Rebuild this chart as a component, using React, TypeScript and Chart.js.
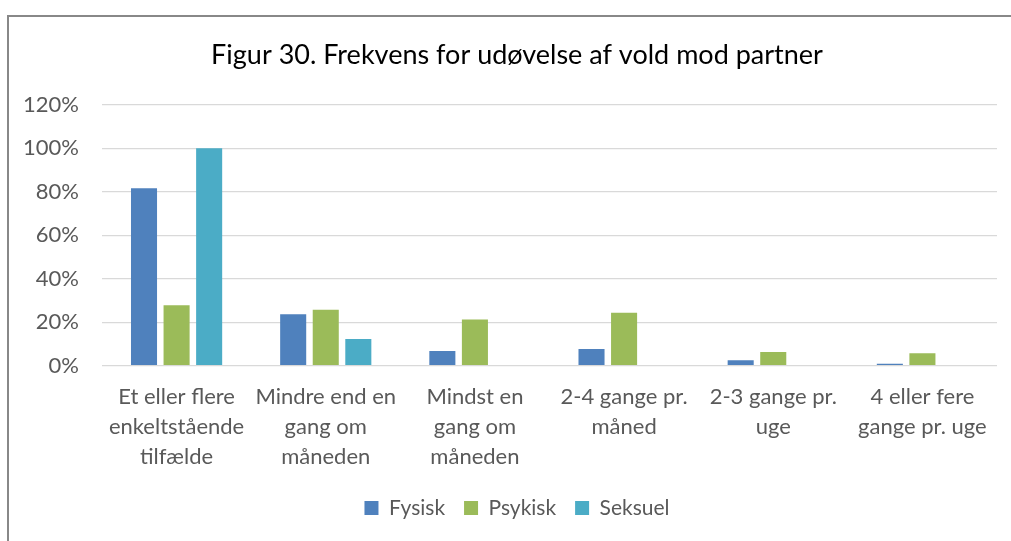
import React, { useEffect, useRef } from "react";
import { Chart, registerables } from "chart.js";

Chart.register(...registerables);

const title = "Figur 30. Frekvens for udøvelse af vold mod partner";
const categories: string[][] = [
  ["Et eller flere", "enkeltstående", "tilfælde"],
  ["Mindre end en", "gang om", "måneden"],
  ["Mindst en", "gang om", "måneden"],
  ["2-4 gange pr.", "måned"],
  ["2-3 gange pr.", "uge"],
  ["4 eller fere", "gange pr. uge"],
];
const fysisk = [81.6, 23.7, 6.8, 7.7, 2.5, 0.9];
const psykisk = [27.8, 25.7, 21.2, 24.3, 6.3, 5.7];
const seksuel = [100, 12.3, 0, 0, 0, 0];
const seriesNames = ["Fysisk", "Psykisk", "Seksuel"];
const seriesColors = ["#4F81BD", "#9BBB59", "#4BACC6"];

const FONT = "Lato";

export default function App() {
  const ref = useRef<HTMLCanvasElement | null>(null);

  useEffect(() => {
    if (!ref.current) return;
    const data = [fysisk, psykisk, seksuel];
    const chart = new Chart(ref.current, {
      type: "bar",
      data: {
        labels: categories,
        datasets: data.map((d, i) => ({
          label: seriesNames[i],
          data: d,
          backgroundColor: seriesColors[i],
          borderWidth: 0,
          categoryPercentage: 0.655,
          barPercentage: 0.8,
        })),
      },
      options: {
        animation: false,
        responsive: false,
        devicePixelRatio: 1,
        layout: { padding: { left: 28, right: 28, top: 0, bottom: 8.5 } },
        plugins: {
          tooltip: { enabled: false },
          title: {
            display: true,
            text: title,
            color: "#000000",
            font: { family: FONT, size: 27, weight: "normal", lineHeight: 1.2 },
            padding: { top: 22.3, bottom: 33 },
          },
          legend: {
            position: "bottom",
            labels: {
              boxWidth: 14,
              boxHeight: 14,
              padding: 19,
              color: "#595959",
              font: { family: FONT, size: 21 },
            },
          },
        },
        scales: {
          x: {
            grid: { display: false, drawTicks: false },
            border: { display: false },
            ticks: {
              color: "#595959",
              font: { family: FONT, size: 22, lineHeight: 30 / 22 },
              padding: 16,
              maxRotation: 0,
              autoSkip: false,
            },
            afterFit: (scale: any) => {
              scale.height = 112.8;
            },
          },
          y: {
            min: 0,
            max: 120,
            grid: { color: "#d9d9d9", lineWidth: 1.3, drawTicks: false },
            border: { display: false },
            ticks: {
              stepSize: 20,
              color: "#595959",
              font: { family: FONT, size: 22 },
              padding: 23,
              callback: (v: any) => v + "%",
            },
            afterFit: (scale: any) => {
              scale.width = 65;
              // let tick labels extend left of the scale box without clipping
              scale._computeLabelArea = () => undefined;
            },
          },
        },
      },
    });
    return () => chart.destroy();
  }, []);

  return (
    <div
      style={{
        position: "fixed",
        left: 0,
        top: 0,
        width: 1011,
        height: 541,
        overflow: "hidden",
        background: "#ffffff",
      }}
    >
      <div
        style={{
          position: "absolute",
          left: 7,
          top: 15,
          borderLeft: "2px solid #888888",
          borderTop: "2px solid #888888",
          width: 1016,
          height: 560,
        }}
      >
        <canvas ref={ref} width={1016} height={520} style={{ display: "block" }} />
      </div>
    </div>
  );
}
